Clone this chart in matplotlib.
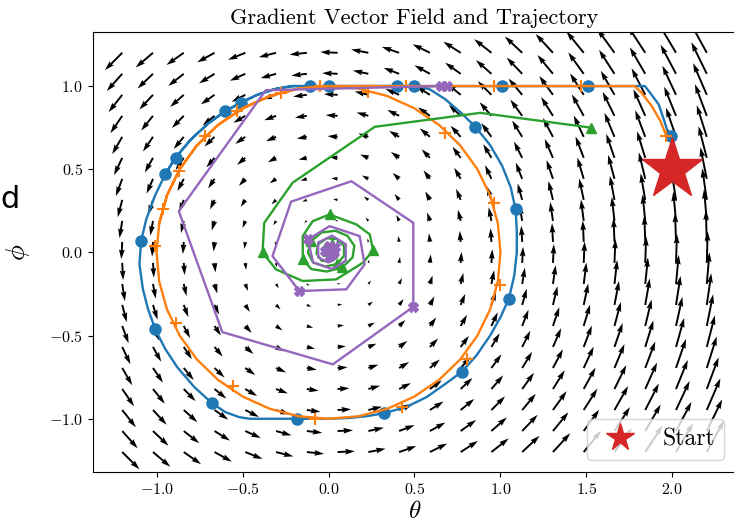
import numpy as np
import matplotlib
matplotlib.use('Agg')
import matplotlib.pyplot as plt

plt.rcParams['font.family'] = 'serif'
plt.rcParams['font.serif'] = ['cmr10']
plt.rcParams['mathtext.fontset'] = 'cm'
plt.rcParams['axes.formatter.use_mathtext'] = True

# ---------------- data ----------------
theta_grid_range = (-1.2, 2.2)
phi_grid_range = (-1.2, 1.2)
grid_n = 20

start_point = (2.0, 0.5)

blue_theta = [1.98, 1.95, 1.92, 1.87, 1.84, 1.5, 1.0, 0.5, 0.0, -0.20, -0.30, -0.41, -0.51, -0.60,
              -0.70, -0.80, -0.89, -0.95, -1.01, -1.06, -1.09, -1.10, -1.08, -1.05, -1.008, -0.95,
              -0.88, -0.78, -0.677, -0.60, -0.52, -0.46, -0.185, 0.0, 0.12, 0.22, 0.322, 0.45, 0.57,
              0.68, 0.776, 0.86, 0.94, 1.00, 1.049, 1.08, 1.095, 1.095, 1.088, 1.06, 1.01, 0.94,
              0.854, 0.77, 0.68, 0.59, 0.52, 0.40, -0.11, -0.22, -0.32, -0.42, -0.51, -0.60, -0.70,
              -0.80, -0.89, -0.95]
blue_phi = [0.70, 0.80, 0.89, 0.96, 1.0, 1.0, 1.0, 1.0, 1.0, 1.0, 0.985, 0.95, 0.90, 0.85,
            0.775, 0.68, 0.57, 0.47, 0.34, 0.20, 0.07, -0.07, -0.22, -0.34, -0.462, -0.58,
            -0.69, -0.81, -0.907, -0.96, -0.99, -1.0, -1.0, -1.0, -0.995, -0.985, -0.967, -0.93, -0.87,
            -0.79, -0.717, -0.62, -0.50, -0.39, -0.278, -0.14, 0.0, 0.13, 0.258, 0.39, 0.52, 0.645,
            0.755, 0.84, 0.92, 0.98, 1.0, 1.0, 1.0, 1.0, 0.98, 0.945, 0.90, 0.85, 0.775,
            0.68, 0.57, 0.47]
blue_mark_theta = [1.99, 1.51, 1.01, 0.50, 0.40, 0.0, -0.11, -0.51, -0.60, -0.89, -0.95, -1.09,
                   -1.008, -0.677, -0.185, 0.322, 0.776, 1.049, 1.088, 0.854]
blue_mark_phi = [0.70, 1.0, 1.0, 1.0, 1.0, 1.0, 1.0, 0.90, 0.85, 0.57, 0.47, 0.07,
                 -0.462, -0.907, -1.0, -0.967, -0.717, -0.278, 0.258, 0.755]

orange_theta = [1.965, 1.93, 1.88, 1.82, 1.78, 1.47, 0.96, 0.45, 0.0,
                -0.174, -0.342, -0.5, -0.643, -0.766, -0.866, -0.940, -0.985, -1.0,
                -0.985, -0.940, -0.866, -0.766, -0.643, -0.5, -0.342, -0.174, 0.0,
                0.174, 0.342, 0.5, 0.643, 0.766, 0.866, 0.940, 0.985, 1.0,
                0.985, 0.940, 0.866, 0.766, 0.643, 0.5, 0.342, 0.174, 0.0,
                -0.174, -0.342, -0.5, -0.643, -0.766, -0.866, -0.940, -0.985]
orange_phi = [0.70, 0.79, 0.88, 0.96, 1.0, 1.0, 1.0, 1.0, 1.0,
              0.985, 0.940, 0.866, 0.766, 0.643, 0.5, 0.342, 0.174, 0.0,
              -0.174, -0.342, -0.5, -0.643, -0.766, -0.866, -0.940, -0.985, -1.0,
              -0.985, -0.940, -0.866, -0.766, -0.643, -0.5, -0.342, -0.174, 0.0,
              0.174, 0.342, 0.5, 0.643, 0.766, 0.866, 0.940, 0.985, 1.0,
              0.985, 0.940, 0.866, 0.766, 0.643, 0.5, 0.342, 0.174]
orange_mark_theta = [1.965, 1.47, 0.96, 0.45, -0.05, 0.23, -0.277, -0.53, -0.716, -0.87, -0.965,
                     -1.008, -0.886, -0.556, -0.076, 0.425, 0.805, 1.0, 0.96, 0.68]
orange_mark_phi = [0.70, 1.0, 1.0, 1.0, 1.0, 0.965, 0.96, 0.85, 0.70, 0.49, 0.26,
                   0.04, -0.426, -0.803, -0.999, -0.927, -0.643, -0.198, 0.30, 0.72]

green_theta = [1.526, 0.883, 0.269, -0.209, -0.374, -0.384, -0.306, -0.15, 0.045, 0.20, 0.259,
               0.24, 0.162, 0.006, -0.092, -0.15, -0.15, -0.10, -0.01, 0.08, 0.14, 0.15, 0.11,
               0.04, -0.04, -0.10, -0.12, -0.09, -0.02, 0.05, 0.09, 0.09, 0.05, -0.01, -0.06,
               -0.07, -0.04, 0.01, 0.05, 0.055, 0.02, -0.02, -0.035, -0.02, 0.01, 0.02]
green_phi = [0.75, 0.839, 0.755, 0.419, 0.178, 0.0, -0.102, -0.172, -0.162, -0.062, 0.012,
             0.108, 0.168, 0.228, 0.188, 0.098, -0.042, -0.10, -0.115, -0.09, -0.03, 0.04, 0.10,
             0.13, 0.12, 0.07, 0.0, -0.06, -0.085, -0.07, -0.02, 0.04, 0.08, 0.085, 0.05,
             -0.005, -0.05, -0.055, -0.03, 0.02, 0.05, 0.04, 0.01, -0.02, -0.02, 0.0]
green_mark_theta = [1.526, -0.384, 0.259, 0.006, -0.15, 0.08, -0.10, 0.05, 0.02]
green_mark_phi = [0.75, 0.0, 0.012, 0.228, -0.042, -0.09, 0.07, -0.07, 0.05]

purple_theta = [0.69, 0.655, -0.365, -0.871, -0.618, 0.025, 0.493, 0.493, 0.133, -0.218, -0.326,
                -0.17, 0.103, 0.21, 0.181, 0.006, -0.12, -0.09, 0.02, 0.10, 0.10, 0.02, -0.06,
                -0.06, 0.0, 0.05, 0.04, 0.0, -0.02, 0.0, 0.01]
purple_phi = [1.0, 1.0, 0.975, 0.248, -0.479, -0.673, -0.327, 0.178, 0.428, 0.305, -0.022,
              -0.232, -0.222, -0.072, 0.098, 0.158, 0.078, -0.06, -0.10, -0.05, 0.05, 0.10, 0.06,
              -0.03, -0.06, -0.02, 0.03, 0.04, 0.01, -0.01, 0.0]
purple_mark_theta = [0.69, 0.655, 0.493, -0.17, -0.12, 0.02, 0.04, -0.02, 0.0, 0.01, 0.03]
purple_mark_phi = [1.0, 1.0, -0.327, -0.232, 0.078, -0.01, 0.03, 0.01, 0.04, -0.02, 0.0]

# ---------------- figure ----------------
W, H = 734, 526
fig = plt.figure(figsize=(W / 100, H / 100), dpi=100)
ax = fig.add_axes([93 / W, 1 - 472 / H, (736 - 93) / W, (472 - 32) / H])

th = np.linspace(theta_grid_range[0], theta_grid_range[1], grid_n)
ph = np.linspace(phi_grid_range[0], phi_grid_range[1], grid_n)
TH, PH = np.meshgrid(th, ph)
U = -PH
V = TH
ax.quiver(TH, PH, U, V, color='black')

ax.plot(blue_theta, blue_phi, color='tab:blue', lw=1.7, zorder=3)
ax.plot(blue_mark_theta, blue_mark_phi, 'o', color='tab:blue', ms=8, zorder=3)
ax.plot(orange_theta, orange_phi, color='tab:orange', lw=1.7, zorder=3)
ax.plot(orange_mark_theta, orange_mark_phi, '+', color='tab:orange', ms=9, mew=1.5, zorder=3)
ax.plot(green_theta, green_phi, color='tab:green', lw=1.7, zorder=3)
ax.plot(green_mark_theta, green_mark_phi, '^', color='tab:green', ms=7, zorder=3)
ax.plot(purple_theta, purple_phi, color='tab:purple', lw=1.7, zorder=3)
ax.plot(purple_mark_theta, purple_mark_phi, 'X', color='tab:purple', ms=7, zorder=3)

ax.plot([start_point[0]], [start_point[1]], '*', color='tab:red', ms=46, ls='none',
        label='Start', zorder=5)

ax.set_xlim(-1.37, 2.37)
ax.set_ylim(-1.32, 1.325)
ax.set_xticks([-1.0, -0.5, 0.0, 0.5, 1.0, 1.5, 2.0])
ax.set_yticks([-1.0, -0.5, 0.0, 0.5, 1.0])
ax.tick_params(labelsize=11.5)

ax.set_title('Gradient Vector Field and Trajectory', fontsize=16)
ax.set_xlabel(r'$\theta$', fontsize=18, labelpad=3)
ax.set_ylabel(r'$\phi$', fontsize=19, labelpad=12)

ax.legend(loc='lower right', fontsize=17, markerscale=0.45)

fig.text(0.0, 1 - 208 / H, 'd', fontsize=22, family='DejaVu Sans', ha='left', va='baseline')

fig.savefig('out.png', dpi=100)
